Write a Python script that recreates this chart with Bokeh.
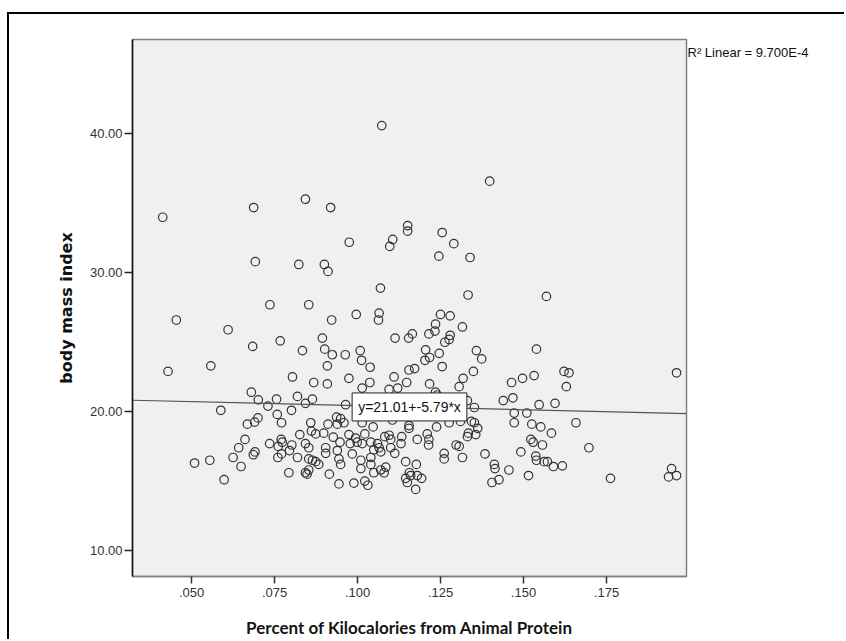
from bokeh.plotting import figure
from bokeh.models import Range1d, FixedTicker, Label, LinearAxis, CustomJSTickFormatter
from bokeh.embed import file_html
from bokeh.resources import INLINE

# Percent of kilocalories from animal protein (x) and body mass index (y)
pct_animal_protein = [
    0.0413, 0.0687, 0.0843, 0.0692, 0.0823,
    0.1073, 0.1398, 0.0919, 0.1151, 0.1151, 0.1255, 0.0975, 0.1106, 0.1097, 0.1290,
    0.1245, 0.1339, 0.0900, 0.0911, 0.1069, 0.1333,
    0.0736, 0.0454, 0.0610, 0.0767, 0.0684, 0.0558, 0.0429, 0.0804, 0.0680, 0.0701,
    0.0756, 0.0730, 0.0588, 0.0801, 0.0758, 0.0700, 0.0690, 0.0668, 0.0771, 0.0661,
    0.0770, 0.0773, 0.0735, 0.0642, 0.0761, 0.0802, 0.0691, 0.0686, 0.0795, 0.0771,
    0.0760, 0.0625, 0.0555, 0.0509, 0.0649, 0.0793, 0.0598,
    0.0853, 0.0922, 0.0996, 0.1065, 0.1063, 0.0894, 0.0834, 0.0901, 0.0924, 0.0963,
    0.1008, 0.1012, 0.1113, 0.1154, 0.1165, 0.0909, 0.1038, 0.0868, 0.0909, 0.0974,
    0.1037, 0.1110, 0.1155, 0.1172, 0.1148, 0.1014, 0.1095, 0.1121, 0.0819, 0.0864,
    0.0843, 0.0964, 0.0937, 0.0949, 0.0959, 0.0939, 0.0911, 0.0859, 0.0861, 0.0826,
    0.0874, 0.0898, 0.0927, 0.0974, 0.0994, 0.0999, 0.1014, 0.1047, 0.1022, 0.1082,
    0.1095, 0.1100, 0.1060, 0.1065, 0.1049, 0.1070, 0.1040, 0.1014, 0.0843, 0.0853,
    0.0904, 0.0904, 0.0947, 0.0939, 0.0944, 0.0949, 0.0984, 0.1010, 0.1010, 0.0819,
    0.0853, 0.0864, 0.0874, 0.0883, 0.0843, 0.0848, 0.0853, 0.0915, 0.1040, 0.1040,
    0.1049, 0.1070, 0.1080, 0.1085, 0.1112, 0.1100, 0.1145, 0.1156, 0.1160, 0.1145,
    0.1150, 0.1180, 0.1175, 0.0944, 0.0989, 0.1022, 0.1031, 0.1105, 0.1155, 0.1155,
    0.1180, 0.1133, 0.1131, 0.0978,
    0.1250, 0.1279, 0.1569, 0.1235, 0.1316, 0.1233, 0.1215, 0.1279, 0.1276, 0.1263,
    0.1205, 0.1217, 0.1203, 0.1246, 0.1255, 0.1358, 0.1374, 0.1539, 0.1349, 0.1318,
    0.1306, 0.1217, 0.1235, 0.1240, 0.1464, 0.1497, 0.1532, 0.1439, 0.1468, 0.1331,
    0.1352, 0.1547, 0.1472, 0.1510, 0.1472, 0.1525, 0.1552, 0.1276, 0.1310, 0.1343,
    0.1352, 0.1238, 0.1362, 0.1356, 0.1334, 0.1331, 0.1210, 0.1215, 0.1214, 0.1297,
    0.1306, 0.1261, 0.1261, 0.1316, 0.1384, 0.1412, 0.1414, 0.1456, 0.1515, 0.1426,
    0.1405, 0.1193, 0.1177, 0.1492, 0.1522, 0.1529, 0.1557, 0.1537, 0.1539, 0.1562,
    0.1622, 0.1637, 0.1961, 0.1629, 0.1595, 0.1584, 0.1658, 0.1697, 0.1572, 0.1590,
    0.1617, 0.1762, 0.1937, 0.1946, 0.1961,
]
bmi = [
    34.0, 34.7, 35.3, 30.8, 30.6,
    40.6, 36.6, 34.7, 33.4, 33.0, 32.9, 32.2, 32.4, 31.9, 32.1,
    31.2, 31.1, 30.6, 30.1, 28.9, 28.4,
    27.7, 26.6, 25.9, 25.1, 24.7, 23.3, 22.9, 22.5, 21.4, 20.85,
    20.9, 20.4, 20.1, 20.1, 19.8, 19.55, 19.25, 19.1, 19.2, 18.0,
    18.0, 17.8, 17.7, 17.4, 17.5, 17.6, 17.1, 16.9, 17.2, 16.96,
    16.7, 16.7, 16.5, 16.3, 16.05, 15.6, 15.1,
    27.7, 26.6, 27.0, 27.1, 26.6, 25.3, 24.4, 24.5, 24.1, 24.1,
    24.4, 23.7, 25.3, 25.3, 25.6, 23.3, 23.2, 22.1, 22.0, 22.4,
    22.1, 22.5, 23.0, 23.1, 22.1, 21.7, 21.6, 21.7, 21.1, 20.9,
    20.6, 20.5, 19.6, 19.5, 19.2, 19.1, 19.1, 19.2, 18.6, 18.35,
    18.4, 18.45, 18.16, 18.35, 18.1, 17.8, 19.2, 18.9, 18.4, 18.2,
    18.3, 18.0, 17.7, 17.4, 17.25, 17.1, 17.8, 17.7, 17.7, 17.4,
    17.4, 17.0, 17.8, 17.2, 16.6, 16.2, 16.96, 16.5, 15.9, 16.7,
    16.6, 16.5, 16.4, 16.2, 15.6, 15.5, 15.8, 15.5, 16.7, 16.2,
    15.6, 15.8, 15.6, 16.0, 17.0, 17.4, 16.4, 15.6, 15.4, 15.2,
    14.9, 15.4, 14.4, 14.8, 14.85, 15.0, 14.7, 19.4, 19.0, 18.8,
    18.0, 18.2, 17.7, 17.7,
    27.0, 26.9, 28.3, 26.3, 26.1, 25.8, 25.6, 25.5, 25.2, 25.0,
    24.45, 23.9, 23.7, 24.2, 23.25, 24.4, 23.8, 24.5, 22.9, 22.4,
    21.8, 22.0, 21.4, 21.2, 22.1, 22.4, 22.6, 20.8, 21.0, 20.8,
    20.3, 20.5, 19.9, 19.9, 19.2, 19.1, 18.9, 19.2, 19.3, 19.3,
    19.2, 18.9, 18.8, 18.35, 18.45, 18.2, 18.4, 18.0, 17.6, 17.6,
    17.5, 17.0, 16.6, 16.7, 16.96, 16.2, 15.9, 15.8, 15.4, 15.1,
    14.9, 15.2, 16.2, 17.1, 18.0, 17.8, 17.6, 16.8, 16.5, 16.4,
    22.9, 22.8, 22.8, 21.8, 20.6, 18.45, 19.2, 17.4, 16.4, 16.05,
    16.1, 15.2, 15.3, 15.9, 15.4,
]

x_ticks = [0.050, 0.075, 0.100, 0.125, 0.150, 0.175]
x_tick_labels = [".050", ".075", ".100", ".125", ".150", ".175"]
y_ticks = [10, 20, 30, 40]
y_tick_labels = ["10.00", "20.00", "30.00", "40.00"]

# Linear fit reported for the scatter
fit_intercept = 21.01
fit_slope = -5.79
r_squared = "9.700E-4"

X_LO, X_HI = 0.0322, 0.1991
Y_LO, Y_HI = 8.13, 46.8

p = figure(
    width=837, height=627,
    x_range=Range1d(X_LO, X_HI), y_range=Range1d(Y_LO, Y_HI),
    output_backend="svg", toolbar_location=None,
    min_border_left=123, min_border_right=160,
    min_border_top=25, min_border_bottom=65,
)
# page frame: black rule along the top and left edges
p.styles = {
    "margin-left": "7px", "margin-top": "12px",
    "border-left": "2px solid black", "border-top": "2px solid black",
}
p.background_fill_color = "#F0F0F0"
p.border_fill_color = "white"
p.outline_line_color = "#808080"
p.outline_line_width = 1.5
p.xgrid.visible = False
p.ygrid.visible = False

tick_fmt = """
let best = 0;
for (let i = 1; i < tick_values.length; i++) {
  if (Math.abs(tick_values[i] - tick) < Math.abs(tick_values[best] - tick)) best = i;
}
return tick_texts[best];
"""

xa = p.xaxis[0]
xa.ticker = FixedTicker(ticks=x_ticks)
xa.formatter = CustomJSTickFormatter(args=dict(tick_values=x_ticks, tick_texts=x_tick_labels), code=tick_fmt)
xa.axis_line_color = "#808080"
xa.axis_line_width = 1.5
xa.major_tick_line_color = "#333333"
xa.major_tick_line_width = 1.5
xa.major_tick_in = 0
xa.major_tick_out = 7
xa.minor_tick_line_color = None
xa.major_label_standoff = 4
xa.major_label_text_font = "Liberation Sans"
xa.major_label_text_font_size = "13px"
xa.major_label_text_color = "#333333"
xa.axis_label = "Percent of Kilocalories from Animal Protein"
xa.axis_label_text_font = "Lato"
xa.axis_label_text_font_style = "bold"
xa.axis_label_text_font_size = "17px"
xa.axis_label_text_color = "#151515"
xa.axis_label_standoff = 17

ya = p.yaxis[0]
ya.ticker = FixedTicker(ticks=y_ticks)
ya.formatter = CustomJSTickFormatter(args=dict(tick_values=y_ticks, tick_texts=y_tick_labels), code=tick_fmt)
ya.axis_line_color = "#111111"
ya.axis_line_width = 1.5
ya.major_tick_line_color = "#222222"
ya.major_tick_line_width = 1.5
ya.major_tick_in = 0
ya.major_tick_out = 8
ya.minor_tick_line_color = None
ya.major_label_standoff = 2
ya.major_label_text_font = "Liberation Sans"
ya.major_label_text_font_size = "13px"
ya.major_label_text_color = "#333333"
ya.axis_label = "body mass index"
ya.axis_label_text_font = "DejaVu Sans"
ya.axis_label_text_font_style = "bold"
ya.axis_label_text_font_size = "16px"
ya.axis_label_text_color = "#111111"
ya.axis_label_standoff = 11

# R-squared note beside the top right corner of the frame
r2_y = Y_HI - 0.95
r2_axis = LinearAxis(
    ticker=FixedTicker(ticks=[r2_y]),
    formatter=CustomJSTickFormatter(args=dict(note=f"R\u00b2 Linear = {r_squared}"), code="return note;"),
    axis_line_color=None, major_tick_line_color=None, minor_tick_line_color=None,
    major_tick_out=0, major_tick_in=0, major_label_standoff=1,
    major_label_text_font="Liberation Sans", major_label_text_font_size="13px",
    major_label_text_color="#111111",
)
p.add_layout(r2_axis, "right")

# data points
p.scatter(pct_animal_protein, bmi, marker="circle", size=8.5,
          fill_color=None, line_color="#333333", line_width=1.2)

# fit line across the full x range
fit_x = [X_LO, X_HI]
fit_y = [fit_intercept + fit_slope * v for v in fit_x]
p.line(fit_x, fit_y, line_color="#555555", line_width=1.2)

x_mid = (X_LO + X_HI) / 2
p.add_layout(Label(
    x=x_mid, y=fit_intercept + fit_slope * x_mid,
    text=f"y={fit_intercept:.2f}+{fit_slope:.2f}*x",
    text_align="center", text_baseline="middle",
    text_font="Liberation Sans", text_font_size="14px", text_color="#111111",
    background_fill_color="white", border_line_color="#222222", border_line_width=1,
    padding=6,
))

open("out.html", "w").write(file_html(p, INLINE))
